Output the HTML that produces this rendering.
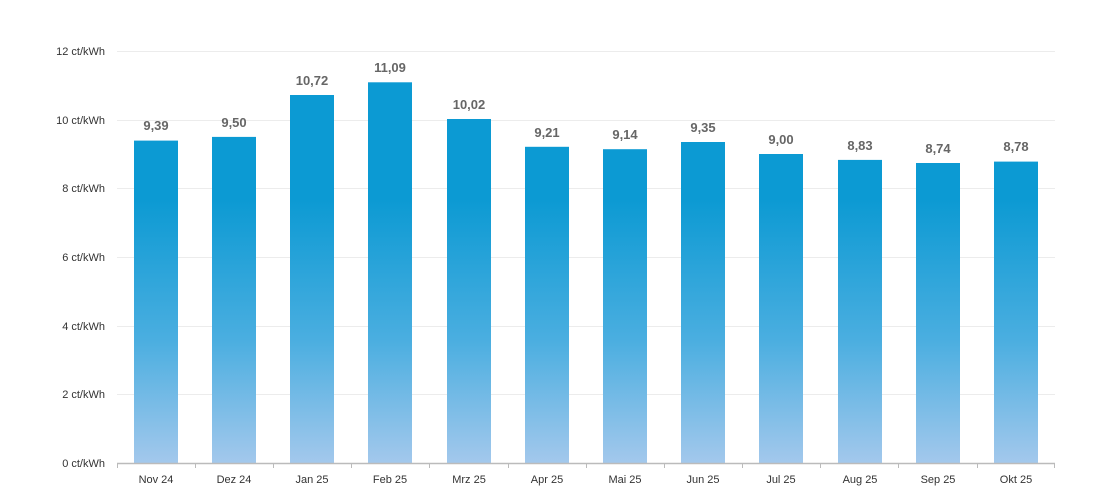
<!DOCTYPE html>
<html><head><meta charset="utf-8"><style>
html,body{margin:0;padding:0;background:#fff;}
svg{display:block;font-family:"Liberation Sans","DejaVu Sans",sans-serif;}
</style></head><body>
<svg width="1113" height="497" viewBox="0 0 1113 497">
<defs>
<linearGradient id="g" gradientUnits="userSpaceOnUse" x1="0" y1="51" x2="0" y2="463">
<stop offset="0" stop-color="#0c9ad3"/>
<stop offset="0.36" stop-color="#0c9ad3"/>
<stop offset="0.7" stop-color="#4aaee0"/>
<stop offset="1" stop-color="#a3c8ec"/>
</linearGradient>
</defs>
<g stroke="#ececec" stroke-width="1">
<line x1="117" x2="1055" y1="51.5" y2="51.5"/>
<line x1="117" x2="1055" y1="120.5" y2="120.5"/>
<line x1="117" x2="1055" y1="188.5" y2="188.5"/>
<line x1="117" x2="1055" y1="257.5" y2="257.5"/>
<line x1="117" x2="1055" y1="326.5" y2="326.5"/>
<line x1="117" x2="1055" y1="394.5" y2="394.5"/>
</g>
<g font-size="11" fill="#333" text-anchor="end">
<text x="105" y="55">12 ct/kWh</text>
<text x="105" y="124">10 ct/kWh</text>
<text x="105" y="192">8 ct/kWh</text>
<text x="105" y="261">6 ct/kWh</text>
<text x="105" y="330">4 ct/kWh</text>
<text x="105" y="398">2 ct/kWh</text>
<text x="105" y="467">0 ct/kWh</text>
</g>
<g fill="url(#g)">
<rect x="134" y="140.6" width="44" height="322.4"/>
<rect x="212" y="136.9" width="44" height="326.1"/>
<rect x="290" y="95" width="44" height="368"/>
<rect x="368" y="82.3" width="44" height="380.7"/>
<rect x="447" y="119" width="44" height="344"/>
<rect x="525" y="146.8" width="44" height="316.2"/>
<rect x="603" y="149.2" width="44" height="313.8"/>
<rect x="681" y="142" width="44" height="321"/>
<rect x="759" y="154" width="44" height="309"/>
<rect x="838" y="159.9" width="44" height="303.1"/>
<rect x="916" y="163" width="44" height="300"/>
<rect x="994" y="161.6" width="44" height="301.4"/>
</g>
<g font-size="13" font-weight="bold" fill="#666" text-anchor="middle">
<text x="156" y="130">9,39</text>
<text x="234" y="127">9,50</text>
<text x="312" y="85">10,72</text>
<text x="390" y="72">11,09</text>
<text x="469" y="109">10,02</text>
<text x="547" y="137">9,21</text>
<text x="625" y="139">9,14</text>
<text x="703" y="132">9,35</text>
<text x="781" y="144">9,00</text>
<text x="860" y="150">8,83</text>
<text x="938" y="153">8,74</text>
<text x="1016" y="151">8,78</text>
</g>
<g stroke="#bbb" stroke-width="1.5">
<line x1="117" x2="1055" y1="463.5" y2="463.5"/>
</g>
<g stroke="#bbb" stroke-width="1">
<line x1="117.5" x2="117.5" y1="463" y2="468"/>
<line x1="195.5" x2="195.5" y1="463" y2="468"/>
<line x1="273.5" x2="273.5" y1="463" y2="468"/>
<line x1="351.5" x2="351.5" y1="463" y2="468"/>
<line x1="429.5" x2="429.5" y1="463" y2="468"/>
<line x1="508.5" x2="508.5" y1="463" y2="468"/>
<line x1="586.5" x2="586.5" y1="463" y2="468"/>
<line x1="664.5" x2="664.5" y1="463" y2="468"/>
<line x1="742.5" x2="742.5" y1="463" y2="468"/>
<line x1="820.5" x2="820.5" y1="463" y2="468"/>
<line x1="898.5" x2="898.5" y1="463" y2="468"/>
<line x1="977.5" x2="977.5" y1="463" y2="468"/>
<line x1="1054.5" x2="1054.5" y1="463" y2="468"/>
</g>
<g font-size="11" fill="#333" text-anchor="middle">
<text x="156" y="483">Nov 24</text>
<text x="234" y="483">Dez 24</text>
<text x="312" y="483">Jan 25</text>
<text x="390" y="483">Feb 25</text>
<text x="469" y="483">Mrz 25</text>
<text x="547" y="483">Apr 25</text>
<text x="625" y="483">Mai 25</text>
<text x="703" y="483">Jun 25</text>
<text x="781" y="483">Jul 25</text>
<text x="860" y="483">Aug 25</text>
<text x="938" y="483">Sep 25</text>
<text x="1016" y="483">Okt 25</text>
</g>
</svg>
</body></html>
